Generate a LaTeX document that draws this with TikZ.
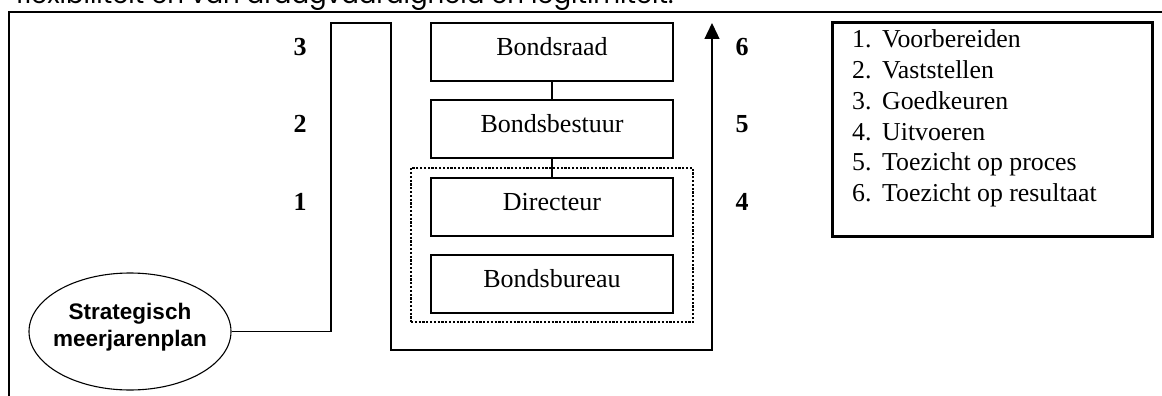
\documentclass[tikz,border=0pt]{standalone}
\usepackage{fontspec}
\setmainfont{Liberation Serif}
\newfontfamily\arialfont{Liberation Sans}
\newfontfamily\gothfont{Poppins}
\usetikzlibrary{arrows.meta,shapes.geometric}
\begin{document}
\begin{tikzpicture}[x=1pt,y=-1pt,line join=miter,
  orgbox/.style={draw,line width=1.3pt,minimum width=242pt,minimum height=58pt,inner sep=0pt,
    font=\fontsize{26}{30}\selectfont,text height=17pt,text depth=10pt},
  num/.style={inner sep=0pt,font=\fontsize{26}{30}\selectfont\bfseries},
  legnum/.style={anchor=base west,inner sep=0pt,font=\fontsize{25.8}{30}\selectfont},
  flow/.style={line width=1.3pt},
  link/.style={line width=1.3pt},
]
\useasboundingbox (0,0) rectangle (1162,396);
% clipped running text at the top
\begin{scope}
  \clip (0,0) rectangle (1162,10.5);
  \node[anchor=base west,inner sep=0pt,font=\gothfont\fontsize{26}{30}\selectfont] (toptext) at (16,3.5)
    {flexibiliteit en van draagvaardigheid en legitimiteit.};
\end{scope}
% outer frame
\draw[line width=2pt] (9,396) -- (9,12) -- (1162,12);

% organisation boxes
\node[orgbox] (raad) at (552,52) {Bondsraad};
\node[orgbox] (bestuur) at (552,129) {Bondsbestuur};
\node[orgbox] (dir) at (552,207) {Directeur};
\node[orgbox] (bureau) at (552,284) {Bondsbureau};
\node[draw,line width=2.4pt,dash pattern=on 2.2pt off 1.6pt,minimum width=282pt,minimum height=154pt,inner sep=0pt] (grp) at (552,245) {};
\draw[link] (raad.south) -- (bestuur.north);
\draw[link] (bestuur.south) -- (dir.north);

% strategic plan
\node[draw,ellipse,line width=1.1pt,minimum width=202pt,minimum height=117pt,inner sep=0pt] (plan) at (130,331.5) {};
\node[align=center,inner sep=0pt,font=\arialfont\bfseries\fontsize{22.5}{27}\selectfont] (plantext) at (130,327) {Strategisch\\meerjarenplan};

% flow line
\coordinate (a) at (331,23);
\coordinate (b) at (391,23);
\coordinate (c) at (391,350);
\coordinate (d) at (712,350);
\coordinate (e) at (712,23);
\draw[flow,-{Triangle[length=16pt,width=15pt]}] (plan.east) -| (a) -- (b) -- (c) -- (d) -- (e);

% step numbers
\node[num] (n3) at (300,47) {3};
\node[num] (n2) at (300,124) {2};
\node[num] (n1) at (300,201.5) {1};
\node[num] (n6) at (742,47) {6};
\node[num] (n5) at (742,124) {5};
\node[num] (n4) at (742,201.5) {4};

% legend
\node[draw,line width=3pt,minimum width=320pt,minimum height=213pt,inner sep=0pt] (leg) at (992,129.5) {};
\node[legnum] (l1) at (852,48) {1.};
\node[legnum] (t1) at (882,48) {Voorbereiden};
\node[legnum] (l2) at (852,78.7) {2.};
\node[legnum] (t2) at (882,78.7) {Vaststellen};
\node[legnum] (l3) at (852,109.4) {3.};
\node[legnum] (t3) at (882,109.4) {Goedkeuren};
\node[legnum] (l4) at (852,140.1) {4.};
\node[legnum] (t4) at (882,140.1) {Uitvoeren};
\node[legnum] (l5) at (852,170.8) {5.};
\node[legnum] (t5) at (882,170.8) {Toezicht op proces};
\node[legnum] (l6) at (852,201.5) {6.};
\node[legnum] (t6) at (882,201.5) {Toezicht op resultaat};
\end{tikzpicture}
\end{document}
